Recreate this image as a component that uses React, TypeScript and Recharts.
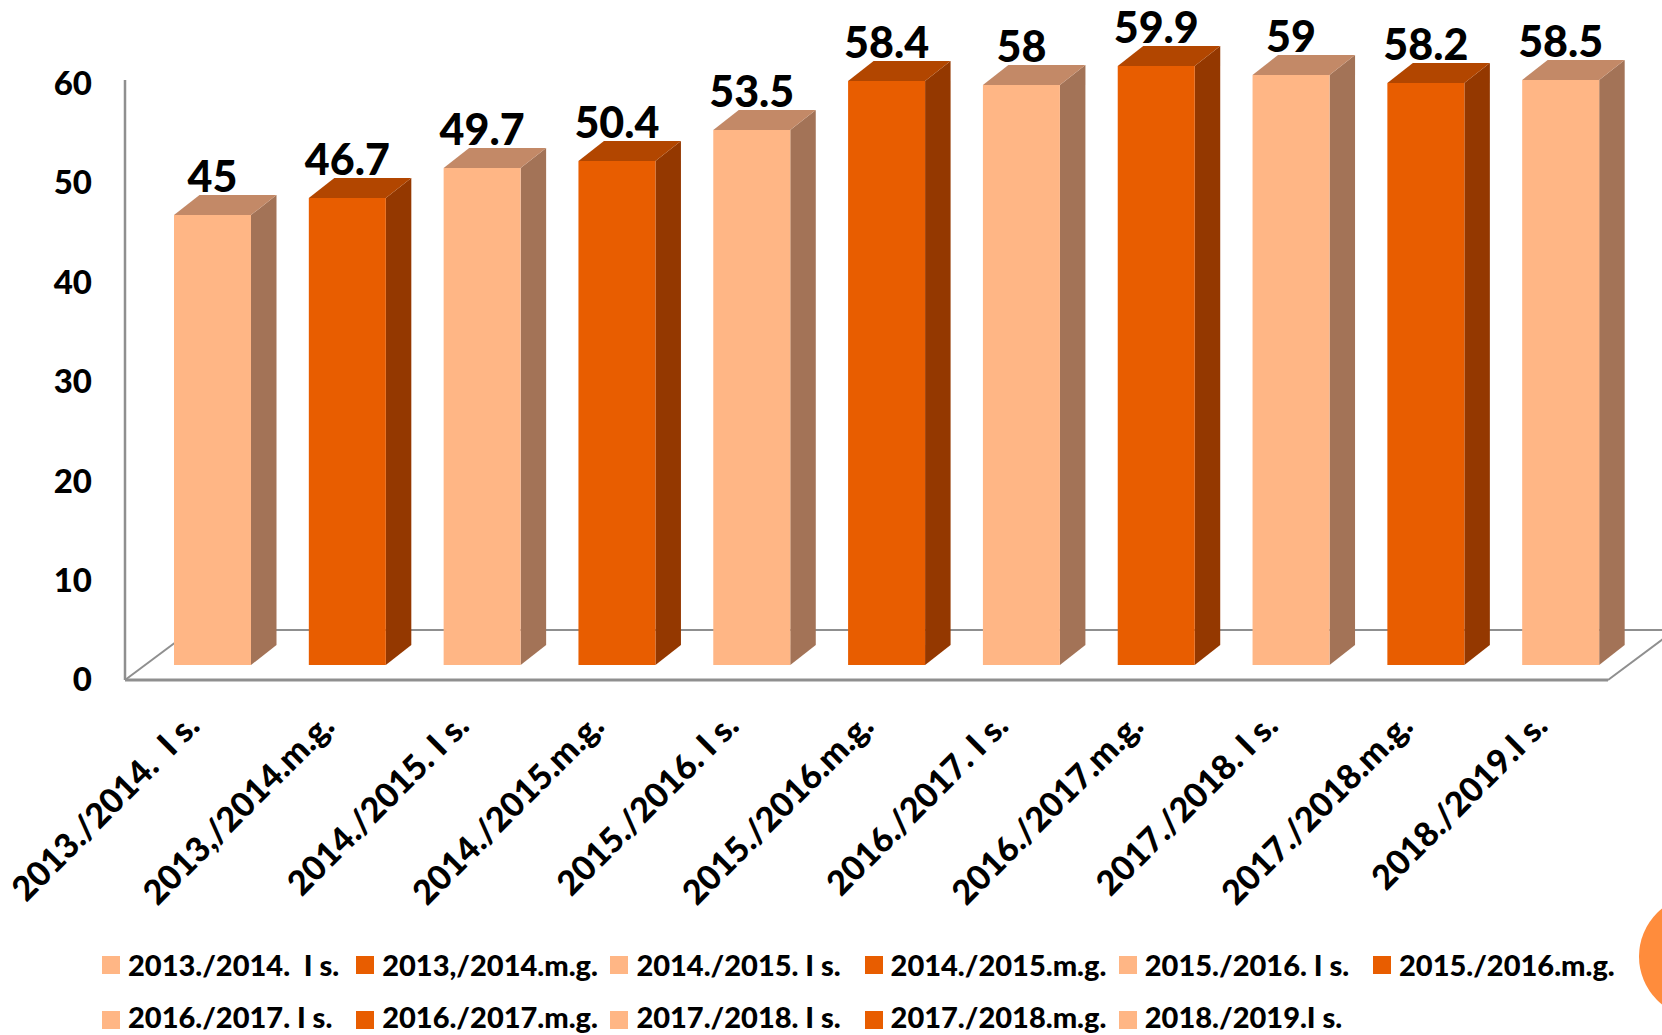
import React from 'react';
import { BarChart, Bar, XAxis, YAxis, Legend, LabelList, usePlotArea } from 'recharts';

const categories = [
  '2013./2014.  I s.', '2013,/2014.m.g.', '2014./2015. I s.', '2014./2015.m.g.',
  '2015./2016. I s.', '2015./2016.m.g.', '2016./2017. I s.', '2016./2017.m.g.',
  '2017./2018. I s.', '2017./2018.m.g.', '2018./2019.I s.',
];
const values = [45, 46.7, 49.7, 50.4, 53.5, 58.4, 58, 59.9, 59, 58.2, 58.5];
const yTicks = [0, 10, 20, 30, 40, 50, 60];

const lightShades = { front: '#FFB685', side: '#A37357', top: '#C38967' };
const darkShades = { front: '#E85D00', side: '#943800', top: '#B24600' };
const shadesFor = (i: number) => (i % 2 === 0 ? lightShades : darkShades);

const data = categories.map((c, i) => ({ category: c, [c]: values[i] }));

const FONT = 'Lato, sans-serif';
const WEIGHT = 900;
const AXIS = '#8f8f8f';
const SHIFT_X = 20;
const SHIFT_Y = 15;
const DEPTH_X = 25.5;
const DEPTH_Y = 20;
const FLOOR_X = 67;
const FLOOR_Y = 50;

function Floor() {
  const p = usePlotArea();
  if (!p) return null;
  const bottom = p.y + p.height;
  const right = p.x + p.width;
  const line = { stroke: AXIS, strokeWidth: 2 };
  return (
    <g>
      <line x1={p.x} y1={bottom} x2={p.x + FLOOR_X} y2={bottom - FLOOR_Y} {...line} />
      <line x1={right} y1={bottom} x2={right + FLOOR_X} y2={bottom - FLOOR_Y} {...line} />
      <line x1={p.x + FLOOR_X} y1={bottom - FLOOR_Y} x2={right + FLOOR_X} y2={bottom - FLOOR_Y} {...line} />
    </g>
  );
}

function Box3D(props: any) {
  const { x, y, width, height, index } = props;
  if (!height || height <= 0) return null;
  const c = shadesFor(categories.indexOf(props.category ?? props.payload?.category ?? categories[index]));
  const fx = x + SHIFT_X;
  const fy = y - SHIFT_Y;
  const r = fx + width;
  const b = fy + height;
  return (
    <g>
      <polygon points={`${r},${fy} ${r + DEPTH_X},${fy - DEPTH_Y} ${r + DEPTH_X},${b - DEPTH_Y} ${r},${b}`} fill={c.side} />
      <polygon points={`${fx},${fy} ${fx + DEPTH_X},${fy - DEPTH_Y} ${r + DEPTH_X},${fy - DEPTH_Y} ${r},${fy}`} fill={c.top} />
      <rect x={fx} y={fy} width={width} height={height} fill={c.front} />
    </g>
  );
}

function ValueLabel(props: any) {
  const { x, y, width, value } = props;
  if (value === undefined || value === null) return null;
  return (
    <text x={x + SHIFT_X + width / 2} y={y - SHIFT_Y - 23} textAnchor="middle" fontFamily={FONT} fontWeight={WEIGHT} fontSize={43} fill="#000">
      {value}
    </text>
  );
}

function XTick({ x, y, payload }: any) {
  return (
    <text
      transform={`translate(${x + 9},${y + 40}) rotate(-45)`}
      textAnchor="end"
      fontFamily={FONT}
      fontWeight={WEIGHT}
      fontSize={34}
      fill="#000"
      style={{ whiteSpace: 'pre' }}
    >
      {payload.value}
    </text>
  );
}

function YTick({ x, y, payload }: any) {
  return (
    <text x={x} y={95 + (y - 80) * 0.994} textAnchor="end" fontFamily={FONT} fontWeight={WEIGHT} fontSize={33} fill="#000">
      {payload.value}
    </text>
  );
}

function LegendContent({ payload }: any) {
  return (
    <div>
      {(payload ?? []).map((item: any, i: number) => {
        const col = i % 6;
        const row = Math.floor(i / 6);
        return (
          <div key={item.value} style={{ position: 'absolute', left: 102 + col * 254.2, top: 956 + row * 55, height: 18, whiteSpace: 'pre' }}>
            <span style={{ position: 'absolute', left: 0, top: 0, width: 18, height: 18, background: item.color }} />
            <span style={{ position: 'absolute', left: 26, top: row === 0 ? -4 : -7, lineHeight: '26px', fontFamily: FONT, fontWeight: WEIGHT, fontSize: 29, color: '#000' }}>
              {item.value}
            </span>
          </div>
        );
      })}
    </div>
  );
}

export default function App() {
  return (
    <div style={{ position: 'absolute', left: 0, top: 0, width: 1662, height: 1035, overflow: 'hidden', background: '#fff' }}>
      <BarChart
        width={1662}
        height={1035}
        data={data}
        margin={{ top: 80, left: 0, right: 54, bottom: 55 }}
        barSize={77}
      >
        <Floor />
        <XAxis
          dataKey="category"
          interval={0}
          height={300}
          tickLine={false}
          axisLine={{ stroke: AXIS, strokeWidth: 3 }}
          tick={<XTick />}
        />
        <YAxis
          domain={[0, 60]}
          ticks={yTicks}
          width={125}
          tickLine={false}
          tickMargin={27}
          axisLine={{ stroke: AXIS, strokeWidth: 2.5 }}
          tick={<YTick />}
        />
        <Legend
          content={<LegendContent />}
          itemSorter={null as any}
          wrapperStyle={{ left: 0, top: 0, width: 1662, height: 0 }}
        />
        {categories.map((c, i) => (
          <Bar
            key={c}
            dataKey={c}
            name={c}
            stackId="a"
            fill={shadesFor(i).front}
            isAnimationActive={false}
            shape={(p: any) => <Box3D {...p} category={c} />}
          >
            <LabelList dataKey={c} content={<ValueLabel />} />
          </Bar>
        ))}
      </BarChart>
      <div style={{ position: 'absolute', left: 1639, top: 895, width: 123, height: 123, borderRadius: '50%', background: '#FF8C3C' }} />
    </div>
  );
}
